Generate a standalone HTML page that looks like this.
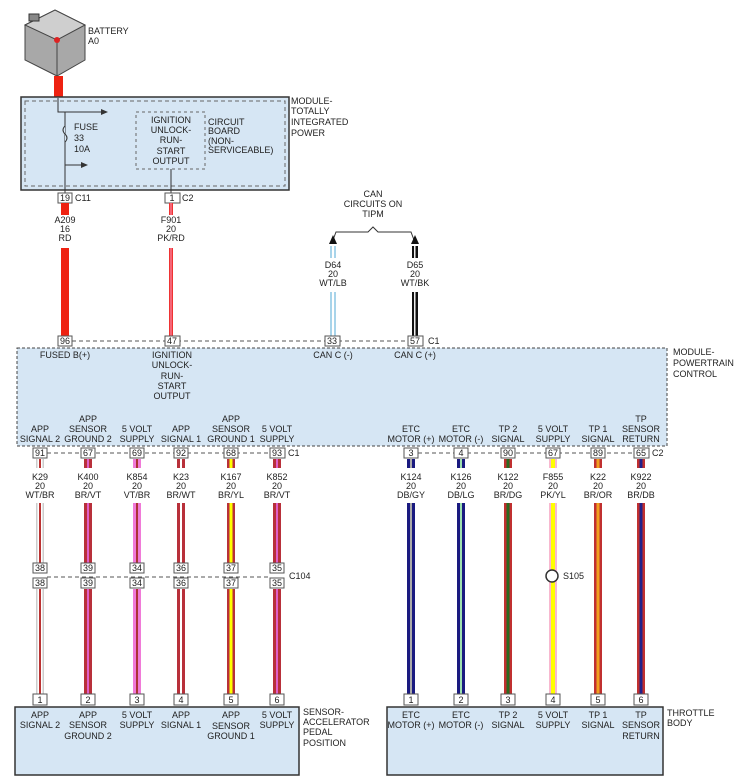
<!DOCTYPE html>
<html><head><meta charset="utf-8"><style>
body{margin:0;background:#fff}
svg{display:block}
text{font-family:"Liberation Sans",sans-serif;font-size:9px;fill:#222}
.c{text-anchor:middle}
</style></head><body>
<svg width="743" height="782" viewBox="0 0 743 782" xmlns="http://www.w3.org/2000/svg">
<defs>
<g id="wl"></g>
</defs>
<!-- battery -->
<polygon points="25,25 55,10 85,25 85,60 57,76 25,60" fill="#a8a8a8" stroke="#444"/>
<polygon points="25,25 55,10 85,25 57,40" fill="#cfcfcf" stroke="#444"/>
<line x1="57" y1="40" x2="57" y2="76" stroke="#444"/>
<rect x="29" y="14" width="10" height="7" fill="#888" stroke="#333"/>
<circle cx="57" cy="40" r="3" fill="#d22"/>
<text x="88" y="34">BATTERY</text><text x="88" y="44">A0</text>
<rect x="54" y="76" width="9" height="22" fill="#e21"/>
<!-- TIPM -->
<rect x="21" y="97" width="268" height="93" fill="#d6e6f4" stroke="#333" stroke-width="1.5"/>
<rect x="25" y="101" width="260" height="85" fill="none" stroke="#666" stroke-dasharray="4,3"/>
<polyline points="58,98 58,112 105,112" fill="none" stroke="#333"/>
<polygon points="108,112 101,109 101,115" fill="#333"/>
<line x1="65" y1="112" x2="65" y2="193" stroke="#333"/>
<path d="M65,126 q-4,4 0,8 q4,4 0,8" fill="#d6e6f4" stroke="#333"/>
<line x1="65" y1="165" x2="84" y2="165" stroke="#333"/><polygon points="88,165 81,162 81,168" fill="#333"/>
<text x="74" y="130">FUSE</text><text x="74" y="141">33</text><text x="74" y="152">10A</text>
<rect x="136" y="112" width="69" height="57" fill="none" stroke="#666" stroke-dasharray="3,3"/>
<text class="c" x="171" y="123">IGNITION</text><text class="c" x="171" y="133">UNLOCK-</text><text class="c" x="171" y="143">RUN-</text><text class="c" x="171" y="154">START</text><text class="c" x="171" y="164">OUTPUT</text>
<text x="208" y="125">CIRCUIT</text><text x="208" y="134">BOARD</text><text x="208" y="144">(NON-</text><text x="208" y="153">SERVICEABLE)</text>
<line x1="171" y1="169" x2="171" y2="193" stroke="#333"/>
<text x="291" y="104">MODULE-</text><text x="291" y="114">TOTALLY</text><text x="291" y="125">INTEGRATED</text><text x="291" y="136">POWER</text>
<rect x="58" y="193" width="14" height="10" fill="#fff" stroke="#555"/><text class="c" x="65" y="201">19</text><text x="75" y="201">C11</text>
<rect x="165" y="193" width="15" height="10" fill="#fff" stroke="#555"/><text class="c" x="172" y="201">1</text><text x="182" y="201">C2</text>
<rect x="61" y="203" width="8" height="12" fill="#e21"/><rect x="61" y="248" width="8" height="89" fill="#e21"/>
<text class="c" x="65" y="223">A209</text><text class="c" x="65" y="232">16</text><text class="c" x="65" y="241">RD</text>
<rect x="169" y="203" width="4" height="12" fill="#e33"/><rect x="169" y="248" width="4" height="89" fill="#e33"/>
<rect x="170.5" y="203" width="1" height="12" fill="#f9b"/><rect x="170.5" y="248" width="1" height="89" fill="#f9b"/>
<text class="c" x="171" y="223">F901</text><text class="c" x="171" y="232">20</text><text class="c" x="171" y="241">PK/RD</text>
<!-- CAN -->
<text class="c" x="373" y="197">CAN</text><text class="c" x="373" y="207">CIRCUITS ON</text><text class="c" x="373" y="217">TIPM</text>
<polyline points="333,240 336,232 368,232 373,227 378,232 411,232 414,240" fill="none" stroke="#333"/>
<polygon points="333,235 329,244 337,244" fill="#111"/><polygon points="415,235 411,244 419,244" fill="#111"/>
<rect x="330" y="246" width="6" height="12" fill="#a8d4ea"/><rect x="330" y="292" width="6" height="45" fill="#a8d4ea"/>
<rect x="332" y="246" width="2" height="12" fill="#fff"/><rect x="332" y="292" width="2" height="45" fill="#fff"/>
<text class="c" x="333" y="268">D64</text><text class="c" x="333" y="277">20</text><text class="c" x="333" y="286">WT/LB</text>
<rect x="412" y="246" width="6" height="12" fill="#111"/><rect x="412" y="292" width="6" height="45" fill="#111"/>
<rect x="414" y="246" width="1.5" height="12" fill="#eee"/><rect x="414" y="292" width="1.5" height="45" fill="#eee"/>
<text class="c" x="415" y="268">D65</text><text class="c" x="415" y="277">20</text><text class="c" x="415" y="286">WT/BK</text>
<!-- PCM -->
<line x1="72" y1="341" x2="408" y2="341" stroke="#555" stroke-dasharray="4,3"/>
<rect x="58" y="336" width="14" height="10" fill="#fff" stroke="#555"/><text class="c" x="65" y="344">96</text>
<rect x="165" y="336" width="15" height="10" fill="#fff" stroke="#555"/><text class="c" x="172" y="344">47</text>
<rect x="325" y="336" width="15" height="10" fill="#fff" stroke="#555"/><text class="c" x="332" y="344">33</text>
<rect x="408" y="336" width="15" height="10" fill="#fff" stroke="#555"/><text class="c" x="415" y="344">57</text><text x="428" y="344">C1</text>
<rect x="17" y="348" width="650" height="98" fill="#d6e6f4" stroke="#444" stroke-dasharray="3,2"/>
<text class="c" x="65" y="358">FUSED B(+)</text>
<text class="c" x="172" y="358">IGNITION</text><text class="c" x="172" y="368">UNLOCK-</text><text class="c" x="172" y="379">RUN-</text><text class="c" x="172" y="389">START</text><text class="c" x="172" y="399">OUTPUT</text>
<text class="c" x="333" y="358">CAN C (-)</text><text class="c" x="415" y="358">CAN C (+)</text>
<text x="673" y="355">MODULE-</text><text x="673" y="366">POWERTRAIN</text><text x="673" y="377">CONTROL</text>
<g class="c">
<text class="c" x="40" y="432">APP</text><text class="c" x="40" y="442">SIGNAL 2</text>
<text class="c" x="88" y="422">APP</text><text class="c" x="88" y="432">SENSOR</text><text class="c" x="88" y="442">GROUND 2</text>
<text class="c" x="137" y="432">5 VOLT</text><text class="c" x="137" y="442">SUPPLY</text>
<text class="c" x="181" y="432">APP</text><text class="c" x="181" y="442">SIGNAL 1</text>
<text class="c" x="231" y="422">APP</text><text class="c" x="231" y="432">SENSOR</text><text class="c" x="231" y="442">GROUND 1</text>
<text class="c" x="277" y="432">5 VOLT</text><text class="c" x="277" y="442">SUPPLY</text>
<text class="c" x="411" y="432">ETC</text><text class="c" x="411" y="442">MOTOR (+)</text>
<text class="c" x="461" y="432">ETC</text><text class="c" x="461" y="442">MOTOR (-)</text>
<text class="c" x="508" y="432">TP 2</text><text class="c" x="508" y="442">SIGNAL</text>
<text class="c" x="553" y="432">5 VOLT</text><text class="c" x="553" y="442">SUPPLY</text>
<text class="c" x="598" y="432">TP 1</text><text class="c" x="598" y="442">SIGNAL</text>
<text class="c" x="641" y="422">TP</text><text class="c" x="641" y="432">SENSOR</text><text class="c" x="641" y="442">RETURN</text>
</g>
<line x1="47" y1="453" x2="270" y2="453" stroke="#555" stroke-dasharray="4,3"/>
<line x1="418" y1="453" x2="634" y2="453" stroke="#555" stroke-dasharray="4,3"/>
<!-- wires left: base, tracer -->
<g>
<rect x="36" y="459" width="8" height="9" fill="#ccc"/><rect x="36" y="503" width="8" height="60" fill="#ccc"/><rect x="36" y="589" width="8" height="105" fill="#ccc"/>
<rect x="37.5" y="459" width="5" height="9" fill="#fff"/><rect x="37.5" y="503" width="5" height="60" fill="#fff"/><rect x="37.5" y="589" width="5" height="105" fill="#fff"/>
<rect x="39" y="459" width="2" height="9" fill="#b33"/><rect x="39" y="503" width="2" height="60" fill="#b33"/><rect x="39" y="589" width="2" height="105" fill="#b33"/>
</g>
<g fill="#b8303a">
<rect x="84" y="459" width="8" height="9"/><rect x="84" y="503" width="8" height="60"/><rect x="84" y="589" width="8" height="105"/>
<rect x="133" y="459" width="8" height="9" fill="#f07ad8"/><rect x="133" y="503" width="8" height="60" fill="#f07ad8"/><rect x="133" y="589" width="8" height="105" fill="#f07ad8"/>
<rect x="177" y="459" width="8" height="9"/><rect x="177" y="503" width="8" height="60"/><rect x="177" y="589" width="8" height="105"/>
<rect x="227" y="459" width="8" height="9"/><rect x="227" y="503" width="8" height="60"/><rect x="227" y="589" width="8" height="105"/>
<rect x="273" y="459" width="8" height="9"/><rect x="273" y="503" width="8" height="60"/><rect x="273" y="589" width="8" height="105"/>
</g>
<g>
<rect x="87" y="459" width="2" height="9" fill="#e060c8"/><rect x="87" y="503" width="2" height="60" fill="#e060c8"/><rect x="87" y="589" width="2" height="105" fill="#e060c8"/>
<rect x="136" y="459" width="2" height="9" fill="#a33"/><rect x="136" y="503" width="2" height="60" fill="#a33"/><rect x="136" y="589" width="2" height="105" fill="#a33"/>
<rect x="180" y="459" width="2" height="9" fill="#fff"/><rect x="180" y="503" width="2" height="60" fill="#fff"/><rect x="180" y="589" width="2" height="105" fill="#fff"/>
<rect x="229.5" y="459" width="3" height="9" fill="#ff0"/><rect x="229.5" y="503" width="3" height="60" fill="#ff0"/><rect x="229.5" y="589" width="3" height="105" fill="#ff0"/>
<rect x="276" y="459" width="2" height="9" fill="#e060c8"/><rect x="276" y="503" width="2" height="60" fill="#e060c8"/><rect x="276" y="589" width="2" height="105" fill="#e060c8"/>
</g>
<!-- right wires -->
<g>
<rect x="407" y="459" width="8" height="9" fill="#1a1a80"/><rect x="407" y="503" width="8" height="191" fill="#1a1a80"/>
<rect x="410" y="459" width="2" height="9" fill="#aaa"/><rect x="410" y="503" width="2" height="191" fill="#aaa"/>
<rect x="457" y="459" width="8" height="9" fill="#1a1a80"/><rect x="457" y="503" width="8" height="191" fill="#1a1a80"/>
<rect x="460" y="459" width="2" height="9" fill="#9de0b0"/><rect x="460" y="503" width="2" height="191" fill="#9de0b0"/>
<rect x="504" y="459" width="8" height="9" fill="#c03030"/><rect x="504" y="503" width="8" height="191" fill="#c03030"/>
<rect x="506.5" y="459" width="3" height="9" fill="#2a6a20"/><rect x="506.5" y="503" width="3" height="191" fill="#2a6a20"/>
<rect x="549" y="459" width="8" height="9" fill="#f8b8d0"/><rect x="549" y="503" width="8" height="191" fill="#f8b8d0"/>
<rect x="551" y="459" width="4" height="9" fill="#ff0"/><rect x="551" y="503" width="4" height="191" fill="#ff0"/>
<rect x="594" y="459" width="8" height="9" fill="#c03030"/><rect x="594" y="503" width="8" height="191" fill="#c03030"/>
<rect x="596.5" y="459" width="3" height="9" fill="#f0a020"/><rect x="596.5" y="503" width="3" height="191" fill="#f0a020"/>
<rect x="637" y="459" width="8" height="9" fill="#c03030"/><rect x="637" y="503" width="8" height="191" fill="#c03030"/>
<rect x="639.5" y="459" width="3" height="9" fill="#22228a"/><rect x="639.5" y="503" width="3" height="191" fill="#22228a"/>
</g>
<!-- PCM bottom connectors -->
<g fill="#fff" stroke="#555">
<rect x="33" y="448" width="14" height="10"/><rect x="81" y="448" width="14" height="10"/><rect x="130" y="448" width="14" height="10"/><rect x="174" y="448" width="14" height="10"/><rect x="224" y="448" width="14" height="10"/><rect x="270" y="448" width="15" height="10"/>
<rect x="404" y="448" width="14" height="10"/><rect x="454" y="448" width="14" height="10"/><rect x="501" y="448" width="14" height="10"/><rect x="546" y="448" width="14" height="10"/><rect x="591" y="448" width="14" height="10"/><rect x="634" y="448" width="15" height="10"/>
</g>
<text class="c" x="40" y="456">91</text><text class="c" x="88" y="456">67</text><text class="c" x="137" y="456">69</text><text class="c" x="181" y="456">92</text><text class="c" x="231" y="456">68</text><text class="c" x="277" y="456">93</text><text x="288" y="456">C1</text>
<text class="c" x="411" y="456">3</text><text class="c" x="461" y="456">4</text><text class="c" x="508" y="456">90</text><text class="c" x="553" y="456">67</text><text class="c" x="598" y="456">89</text><text class="c" x="641" y="456">65</text><text x="652" y="456">C2</text>
<!-- wire labels -->
<text class="c" x="40" y="480">K29</text><text class="c" x="40" y="489">20</text><text class="c" x="40" y="498">WT/BR</text>
<text class="c" x="88" y="480">K400</text><text class="c" x="88" y="489">20</text><text class="c" x="88" y="498">BR/VT</text>
<text class="c" x="137" y="480">K854</text><text class="c" x="137" y="489">20</text><text class="c" x="137" y="498">VT/BR</text>
<text class="c" x="181" y="480">K23</text><text class="c" x="181" y="489">20</text><text class="c" x="181" y="498">BR/WT</text>
<text class="c" x="231" y="480">K167</text><text class="c" x="231" y="489">20</text><text class="c" x="231" y="498">BR/YL</text>
<text class="c" x="277" y="480">K852</text><text class="c" x="277" y="489">20</text><text class="c" x="277" y="498">BR/VT</text>
<text class="c" x="411" y="480">K124</text><text class="c" x="411" y="489">20</text><text class="c" x="411" y="498">DB/GY</text>
<text class="c" x="461" y="480">K126</text><text class="c" x="461" y="489">20</text><text class="c" x="461" y="498">DB/LG</text>
<text class="c" x="508" y="480">K122</text><text class="c" x="508" y="489">20</text><text class="c" x="508" y="498">BR/DG</text>
<text class="c" x="553" y="480">F855</text><text class="c" x="553" y="489">20</text><text class="c" x="553" y="498">PK/YL</text>
<text class="c" x="598" y="480">K22</text><text class="c" x="598" y="489">20</text><text class="c" x="598" y="498">BR/OR</text>
<text class="c" x="641" y="480">K922</text><text class="c" x="641" y="489">20</text><text class="c" x="641" y="498">BR/DB</text>
<!-- C104 -->
<line x1="47" y1="577" x2="270" y2="577" stroke="#555" stroke-dasharray="4,3"/>
<g fill="#fff" stroke="#555">
<rect x="33" y="563" width="14" height="10"/><rect x="81" y="563" width="14" height="10"/><rect x="130" y="563" width="14" height="10"/><rect x="174" y="563" width="14" height="10"/><rect x="224" y="563" width="14" height="10"/><rect x="270" y="563" width="14" height="10"/>
<rect x="33" y="578" width="14" height="10"/><rect x="81" y="578" width="14" height="10"/><rect x="130" y="578" width="14" height="10"/><rect x="174" y="578" width="14" height="10"/><rect x="224" y="578" width="14" height="10"/><rect x="270" y="578" width="14" height="10"/>
</g>
<text class="c" x="40" y="571">38</text><text class="c" x="88" y="571">39</text><text class="c" x="137" y="571">34</text><text class="c" x="181" y="571">36</text><text class="c" x="231" y="571">37</text><text class="c" x="277" y="571">35</text>
<text class="c" x="40" y="586">38</text><text class="c" x="88" y="586">39</text><text class="c" x="137" y="586">34</text><text class="c" x="181" y="586">36</text><text class="c" x="231" y="586">37</text><text class="c" x="277" y="586">35</text>
<text x="289" y="579">C104</text>
<circle cx="552" cy="576" r="6" fill="#fff" stroke="#333" stroke-width="1.5"/><text x="563" y="579">S105</text>
<!-- bottom modules -->
<rect x="15" y="707" width="284" height="68" fill="#d6e6f4" stroke="#333" stroke-width="1.5"/>
<rect x="387" y="707" width="276" height="68" fill="#d6e6f4" stroke="#333" stroke-width="1.5"/>
<g fill="#fff" stroke="#555">
<rect x="33" y="694" width="14" height="11"/><rect x="81" y="694" width="14" height="11"/><rect x="130" y="694" width="14" height="11"/><rect x="174" y="694" width="14" height="11"/><rect x="224" y="694" width="14" height="11"/><rect x="270" y="694" width="14" height="11"/>
<rect x="404" y="694" width="14" height="11"/><rect x="454" y="694" width="14" height="11"/><rect x="501" y="694" width="14" height="11"/><rect x="546" y="694" width="14" height="11"/><rect x="591" y="694" width="14" height="11"/><rect x="634" y="694" width="14" height="11"/>
</g>
<text class="c" x="40" y="703">1</text><text class="c" x="88" y="703">2</text><text class="c" x="137" y="703">3</text><text class="c" x="181" y="703">4</text><text class="c" x="231" y="703">5</text><text class="c" x="277" y="703">6</text>
<text class="c" x="411" y="703">1</text><text class="c" x="461" y="703">2</text><text class="c" x="508" y="703">3</text><text class="c" x="553" y="703">4</text><text class="c" x="598" y="703">5</text><text class="c" x="641" y="703">6</text>
<text class="c" x="40" y="718">APP</text><text class="c" x="40" y="728">SIGNAL 2</text>
<text class="c" x="88" y="718">APP</text><text class="c" x="88" y="728">SENSOR</text><text class="c" x="88" y="739">GROUND 2</text>
<text class="c" x="137" y="718">5 VOLT</text><text class="c" x="137" y="728">SUPPLY</text>
<text class="c" x="181" y="718">APP</text><text class="c" x="181" y="728">SIGNAL 1</text>
<text class="c" x="231" y="718">APP</text><text class="c" x="231" y="729">SENSOR</text><text class="c" x="231" y="739">GROUND 1</text>
<text class="c" x="277" y="718">5 VOLT</text><text class="c" x="277" y="728">SUPPLY</text>
<text x="303" y="715">SENSOR-</text><text x="303" y="725">ACCELERATOR</text><text x="303" y="735">PEDAL</text><text x="303" y="746">POSITION</text>
<text class="c" x="411" y="718">ETC</text><text class="c" x="411" y="728">MOTOR (+)</text>
<text class="c" x="461" y="718">ETC</text><text class="c" x="461" y="728">MOTOR (-)</text>
<text class="c" x="508" y="718">TP 2</text><text class="c" x="508" y="728">SIGNAL</text>
<text class="c" x="553" y="718">5 VOLT</text><text class="c" x="553" y="728">SUPPLY</text>
<text class="c" x="598" y="718">TP 1</text><text class="c" x="598" y="728">SIGNAL</text>
<text class="c" x="641" y="718">TP</text><text class="c" x="641" y="728">SENSOR</text><text class="c" x="641" y="739">RETURN</text>
<text x="667" y="716">THROTTLE</text><text x="667" y="726">BODY</text>
</svg>
</body></html>
